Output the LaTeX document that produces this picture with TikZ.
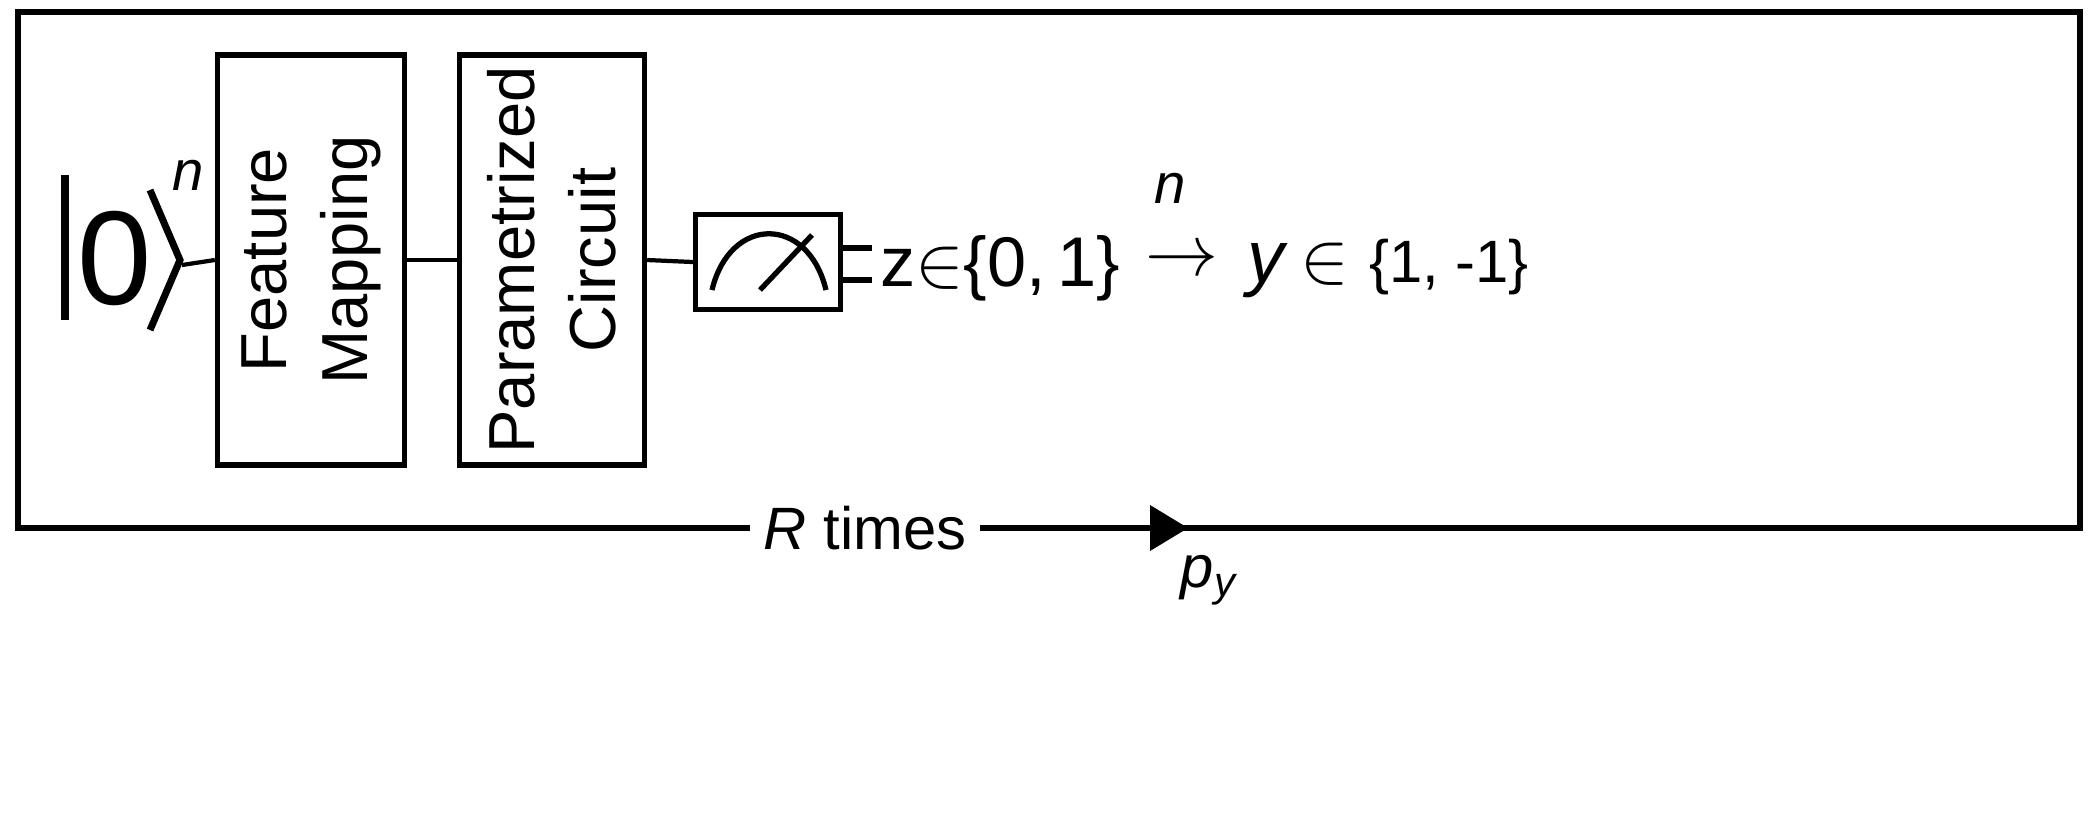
\documentclass[tikz,border=0pt]{standalone}
\usepackage{fontspec}
\setmainfont{Liberation Sans}
\usepackage{amssymb}
\begin{document}
\begin{tikzpicture}[x=0.01cm,y=-0.01cm,line width=1.2pt,
  lbl/.style={font=\fontsize{18.5}{23}\selectfont,align=center}]
\useasboundingbox (0,0) rectangle (2096,823);
% outer loop
\coordinate (tl) at (18,12); \coordinate (tr) at (2080,12);
\coordinate (br) at (2080,528); \coordinate (bl) at (18,528);
\node[font=\fontsize{17}{20}\selectfont] (R) at (865,528) {\textit{R} times};
\coordinate (tri) at (1150,528);
\draw[line width=1.5pt] (R.west) -- (bl) -- (tl) -- (tr) -- (br) -- (tri);
\draw[line width=1.5pt] (R.east) -- (tri);
\fill (1150,505) -- (1188,528) -- (1150,551) -- cycle;
\node[font=\fontsize{17}{20}\selectfont] (py) at (1210,580) {\textit{p}\textsubscript{\textit{y}}};
% ket
\draw[line width=2pt] (65,175) -- (65,320);
\node[font=\fontsize{38}{40}\selectfont] (zero) at (115,258) {0};
\draw[line width=2pt] (150,190) -- (180,260) -- (150,330);
\node[font=\fontsize{16}{19}\selectfont\itshape] (n1) at (188,175) {n};
\coordinate (ket) at (182,265);
% boxes
\node[draw,line width=1.5pt,minimum width=1.87cm,minimum height=4.1cm] (fm) at (311,260) {};
\node[lbl,rotate=90] at (fm.center) {Feature\\Mapping};
\node[draw,line width=1.5pt,minimum width=1.85cm,minimum height=4.1cm] (pc) at (552,260) {};
\node[lbl,rotate=90] at (pc.center) {Parametrized\\Circuit};
\node[draw,line width=1.5pt,minimum width=1.45cm,minimum height=0.95cm] (m) at (768,262) {};
\draw (ket) -- (fm.west);
\draw (fm.east) -- (pc.west);
\draw (pc.east) -- (m.west);
% meter
\draw[line width=1.5pt] (712,290) .. controls (730,215) and (808,215) .. (826,290);
\draw[line width=1.5pt] (760,290) -- (812,235);
\draw[line width=1.5pt] (m.east |- 0,248) -- (872,248);
\draw[line width=1.5pt] (m.east |- 0,280) -- (872,280);
\node[font=\fontsize{20}{24}\selectfont,anchor=west,inner sep=0] (z) at (878,268) {z$\in$\{0,\,1\}};
\node[font=\fontsize{16}{19}\selectfont\itshape] (n2) at (1170,188) {n};
\node[font=\fontsize{22}{26}\selectfont,inner sep=0] (arr) at (1182,262) {$\rightarrow$};
\node[font=\fontsize{21}{25}\selectfont,anchor=west,inner sep=0] (y) at (1245,268) {\textit{y}\,$\in$ {\fontsize{17}{20}\selectfont\{1, -1\}}};
\end{tikzpicture}
\end{document}
